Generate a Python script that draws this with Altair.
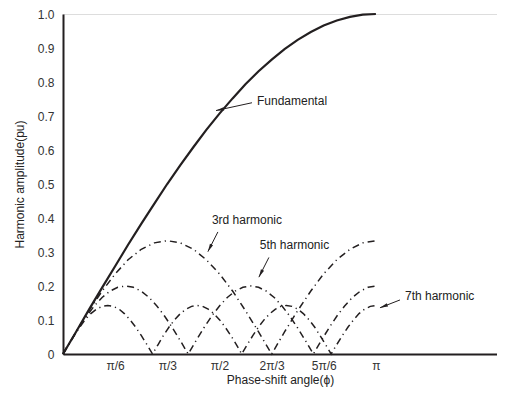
import math
import altair as alt
import pandas as pd

# ---- data (x in units of pi, y in per unit) ----
fund_x = [0, .042, .083, .125, .167, .208, .25, .292, .333, .375, .417, .458, .5,
          .542, .583, .625, .667, .708, .75, .792, .833, .875, .917, .958, 1.0]
fund_y = [0, .0654, .1305, .1951, .2588, .3214, .3827, .4423, .5, .5556, .6088, .6593, .7071,
          .7518, .7934, .8315, .866, .8969, .9239, .9469, .9659, .9808, .9914, .9979, 1.0]

h3_x = [0, .042, .083, .125, .167, .208, .25, .292, .333, .375, .417, .458, .5,
        .542, .583, .625, .667, .708, .75, .792, .833, .875, .917, .958, 1.0]
h3_y = [0, .065, .1276, .1852, .2357, .2772, .308, .3269, .3333, .3269, .308, .2772, .2357,
        .1852, .1276, .065, 0, .065, .1276, .1852, .2357, .2772, .308, .3269, .3333]

h5_x = [0, .025, .05, .075, .1, .125, .15, .175, .2, .225, .25, .275, .3, .325, .35, .375,
        .4, .425, .45, .475, .5, .525, .55, .575, .6, .625, .65, .675, .7, .725, .75, .775,
        .8, .825, .85, .875, .9, .925, .95, .975, 1.0]
h5_y = [0, .039, .0765, .1111, .1414, .1663, .1848, .1962, .2, .1962, .1848, .1663, .1414, .1111, .0765, .039,
        0, .039, .0765, .1111, .1414, .1663, .1848, .1962, .2, .1962, .1848, .1663, .1414, .1111, .0765, .039,
        0, .039, .0765, .1111, .1414, .1663, .1848, .1962, .2]

h7_x = [0, .018, .036, .054, .071, .089, .107, .125, .143, .161, .179, .196, .214, .232, .25, .268,
        .286, .304, .321, .339, .357, .375, .393, .411, .429, .446, .464, .482, .5, .518, .536, .554,
        .571, .589, .607, .625, .643, .661, .679, .696, .714, .732, .75, .768, .786, .804, .821, .839,
        .857, .875, .893, .911, .929, .946, .964, .982, 1.0]
h7_y = [0, .0279, .0547, .0794, .101, .1188, .132, .1401, .1429, .1401, .132, .1188, .101, .0794, .0547, .0279,
        0, .0279, .0547, .0794, .101, .1188, .132, .1401, .1429, .1401, .132, .1188, .101, .0794, .0547, .0279,
        0, .0279, .0547, .0794, .101, .1188, .132, .1401, .1429, .1401, .132, .1188, .101, .0794, .0547, .0279,
        0, .0279, .0547, .0794, .101, .1188, .132, .1401, .1429]

x_ticks = [1/6, 1/3, 1/2, 2/3, 5/6, 1]
x_tick_labels = ["", "π/6", "π/3", "π/2", "2π/3", "5π/6", "π"]
y_ticks = [0, 0.1, 0.2, 0.3, 0.4, 0.5, 0.6, 0.7, 0.8, 0.9, 1.0]

labels = ["Fundamental", "3rd harmonic", "5th harmonic", "7th harmonic"]
label_x = [0.62, 0.476, 0.629, 1.093]
label_y = [0.744, 0.394, 0.321, 0.171]
arrow_tail_x = [0.604, 0.495, 0.658, 1.077]
arrow_tail_y = [0.739, 0.359, 0.284, 0.159]
arrow_head_x = [0.489, 0.463, 0.626, 1.013]
arrow_head_y = [0.716, 0.301, 0.226, 0.136]

# ---- layout ----
W, H = 434, 340
XMAX = 1.387
INK = "#231f20"
FONT = "Liberation Sans"

fund = pd.DataFrame({"x": fund_x, "y": fund_y})
harm = pd.concat([
    pd.DataFrame({"x": h3_x, "y": h3_y, "s": "3rd"}),
    pd.DataFrame({"x": h5_x, "y": h5_y, "s": "5th"}),
    pd.DataFrame({"x": h7_x, "y": h7_y, "s": "7th"}),
])

sx, sy = W / XMAX, H
angles = []
for tx, ty, hx, hy in zip(arrow_tail_x, arrow_tail_y, arrow_head_x, arrow_head_y):
    dx = (hx - tx) * sx
    dy = -(hy - ty) * sy
    angles.append(math.degrees(math.atan2(dx, -dy)) % 360)
ann = pd.DataFrame({"label": labels, "lx": label_x, "ly": label_y,
                    "tx": arrow_tail_x, "ty": arrow_tail_y,
                    "hx": arrow_head_x, "hy": arrow_head_y, "ang": angles})

label_js = "[" + ",".join(f"'{t}'" for t in x_tick_labels) + "]"

xscale = alt.Scale(domain=[0, XMAX], nice=False, zero=False)
yscale = alt.Scale(domain=[0, 1], nice=False)

xaxis = alt.Axis(values=x_ticks, labelExpr=f"{label_js}[round(datum.value*6)]",
                 title="Phase-shift angle(ϕ)", grid=False, ticks=False, tickSize=0,
                 labelPadding=6, titlePadding=3, domainWidth=2, domainColor=INK,
                 labelFontSize=12, titleFontSize=12, titleFontWeight="normal",
                 labelOverlap=False,
                 labelColor="#333", titleColor="#222", labelFont=FONT, titleFont=FONT)
yaxis = alt.Axis(values=y_ticks, labelExpr="datum.value == 0 ? '0' : format(datum.value, '.1f')",
                 title="Harmonic amplitude(pu)", grid=False, ticks=False, tickSize=0,
                 labelPadding=9, titlePadding=11, domainWidth=2, domainColor=INK,
                 labelFontSize=12, titleFontSize=12, titleFontWeight="normal",
                 labelOverlap=False,
                 labelColor="#333", titleColor="#222", labelFont=FONT, titleFont=FONT)

X = lambda f: alt.X(f, scale=xscale, axis=xaxis)
Y = lambda f: alt.Y(f, scale=yscale, axis=yaxis)

fund_line = alt.Chart(fund).mark_line(color=INK, strokeWidth=2.2).encode(
    x=X("x:Q"), y=Y("y:Q"),
)

harm_lines = alt.Chart(harm).mark_line(color=INK, strokeWidth=1.5, strokeDash=[7, 4, 1.2, 4]).encode(
    x=X("x:Q"), y=Y("y:Q"), detail="s:N",
)

arrows = alt.Chart(ann).mark_rule(color=INK, strokeWidth=1).encode(
    x=X("tx:Q"), y=Y("ty:Q"), x2="hx:Q", y2="hy:Q",
)

heads = alt.Chart(ann).mark_point(
    shape="M0,0L0.35,1.6L-0.35,1.6Z", filled=True, color=INK, size=100, opacity=1
).encode(
    x=X("hx:Q"), y=Y("hy:Q"), angle=alt.Angle("ang:Q", scale=None),
)

texts = alt.Chart(ann).mark_text(align="left", baseline="middle", fontSize=12, font=FONT, color="#222").encode(
    x=X("lx:Q"), y=Y("ly:Q"), text="label:N",
)

chart = alt.layer(fund_line, harm_lines, arrows, heads, texts).properties(
    width=W, height=H,
    autosize=alt.AutoSizeParams(type="none"),
    padding={"left": 55, "top": 6, "right": 0, "bottom": 34},
).configure_view(stroke=None).configure_axis(labelOverlap=False).configure(background="white")

chart.save("out.html", embed_options={"renderer": "svg", "actions": False})
